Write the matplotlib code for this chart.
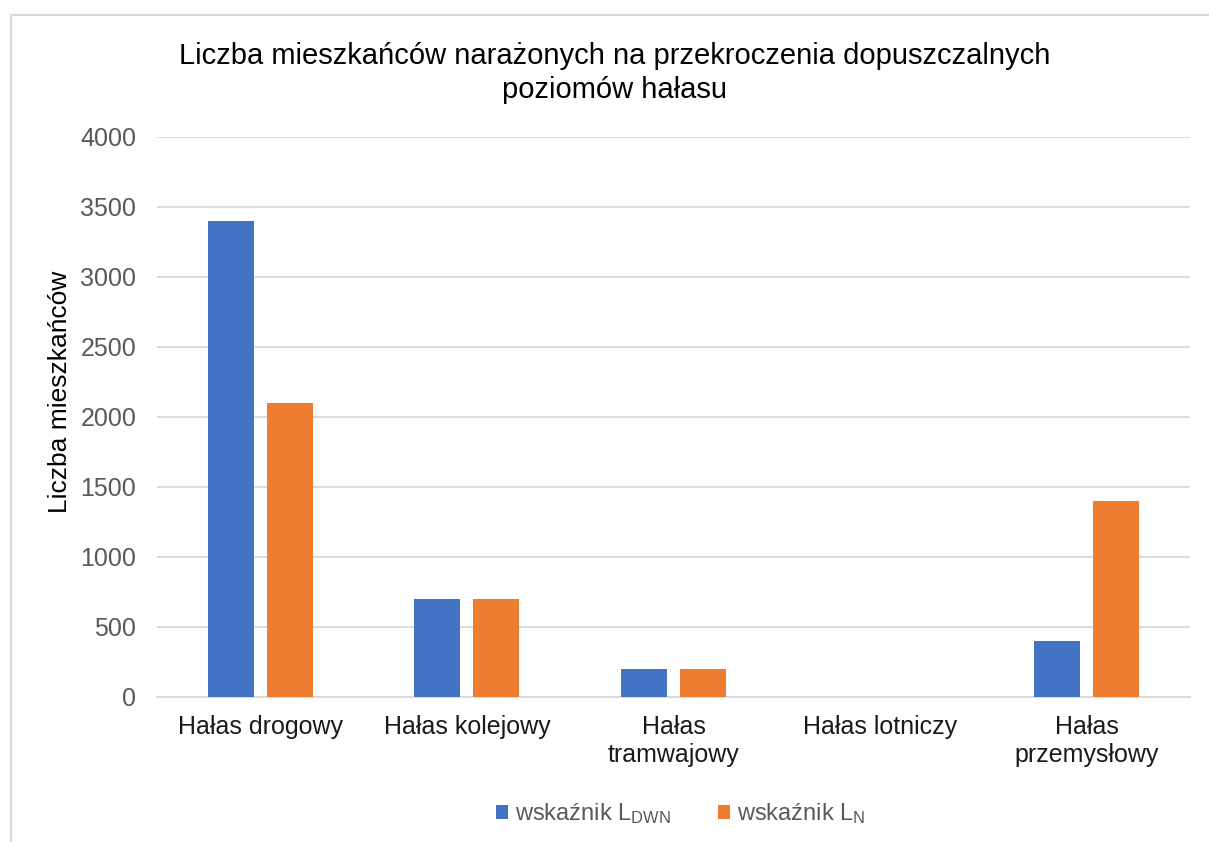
import matplotlib
matplotlib.use("Agg")
import matplotlib.pyplot as plt
import numpy as np
from matplotlib.patches import Rectangle

plt.rcParams['font.family'] = ['Liberation Sans', 'DejaVu Sans']

categories = ["Hałas drogowy", "Hałas kolejowy", "Hałas\ntramwajowy",
              "Hałas lotniczy", "Hałas\nprzemysłowy"]
l_dwn = [3400, 700, 200, 0, 400]
l_n = [2100, 700, 200, 0, 1400]
series_labels = [r"wskaźnik $\mathregular{L_{DWN}}$", r"wskaźnik $\mathregular{L_{N}}$"]
yticks = [0, 500, 1000, 1500, 2000, 2500, 3000, 3500, 4000]

blue = "#4472C4"
orange = "#ED7D31"
grid_col = "#D9D9D9"

fig = plt.figure(figsize=(12.09, 8.42), dpi=100)
ax = fig.add_axes([157 / 1209, 1 - 697 / 842, (1190 - 157) / 1209, (697 - 137) / 842])

# outer chart frame
fig.patches.append(Rectangle((11 / 1209, -0.1), 1.2, 1 - 15 / 842 + 0.1,
                             transform=fig.transFigure, fill=False,
                             edgecolor=grid_col, linewidth=1.5))

x = np.arange(len(categories))
w = 0.223
off = 0.143
ax.bar(x - off, l_dwn, width=w, color=blue, label=series_labels[0], zorder=3)
ax.bar(x + off, l_n, width=w, color=orange, label=series_labels[1], zorder=3)

ax.set_xlim(-0.5, len(categories) - 0.5)
ax.set_ylim(0, 4000)
ax.set_yticks(yticks)
ax.set_yticklabels([str(t) for t in yticks])
ax.yaxis.grid(True, color=grid_col, linewidth=1.3, zorder=0)
for s in ["top", "right", "left"]:
    ax.spines[s].set_visible(False)
ax.spines["bottom"].set_color(grid_col)
ax.spines["bottom"].set_linewidth(1.3)
ax.tick_params(axis="both", length=0)
ax.tick_params(axis="y", labelsize=18, labelcolor="#595959", pad=15)
ax.tick_params(axis="x", labelsize=18, labelcolor="#1a1a1a", pad=13)
ax.set_xticks(x)
ax.set_xticklabels(categories, linespacing=1.2)

ax.set_ylabel("Liczba mieszkańców", fontsize=19, color="#000000")
ax.yaxis.set_label_coords((72 - 157) / (1190 - 157), (697 - 392) / (697 - 137))

fig.text(615 / 1209, 1 - 73 / 842,
         "Liczba mieszkańców narażonych na przekroczenia dopuszczalnych\npoziomów hałasu",
         ha="center", va="center", fontsize=21, color="#000000", linespacing=1.28)

fig.legend(loc="center", bbox_to_anchor=(681 / 1209, 1 - 814 / 842), ncol=2,
           frameon=False, fontsize=17, handlelength=0.5, handleheight=0.5,
           handletextpad=0.3, columnspacing=2.0, labelcolor="#595959")

fig.savefig("out.png", dpi=100, facecolor="white")
